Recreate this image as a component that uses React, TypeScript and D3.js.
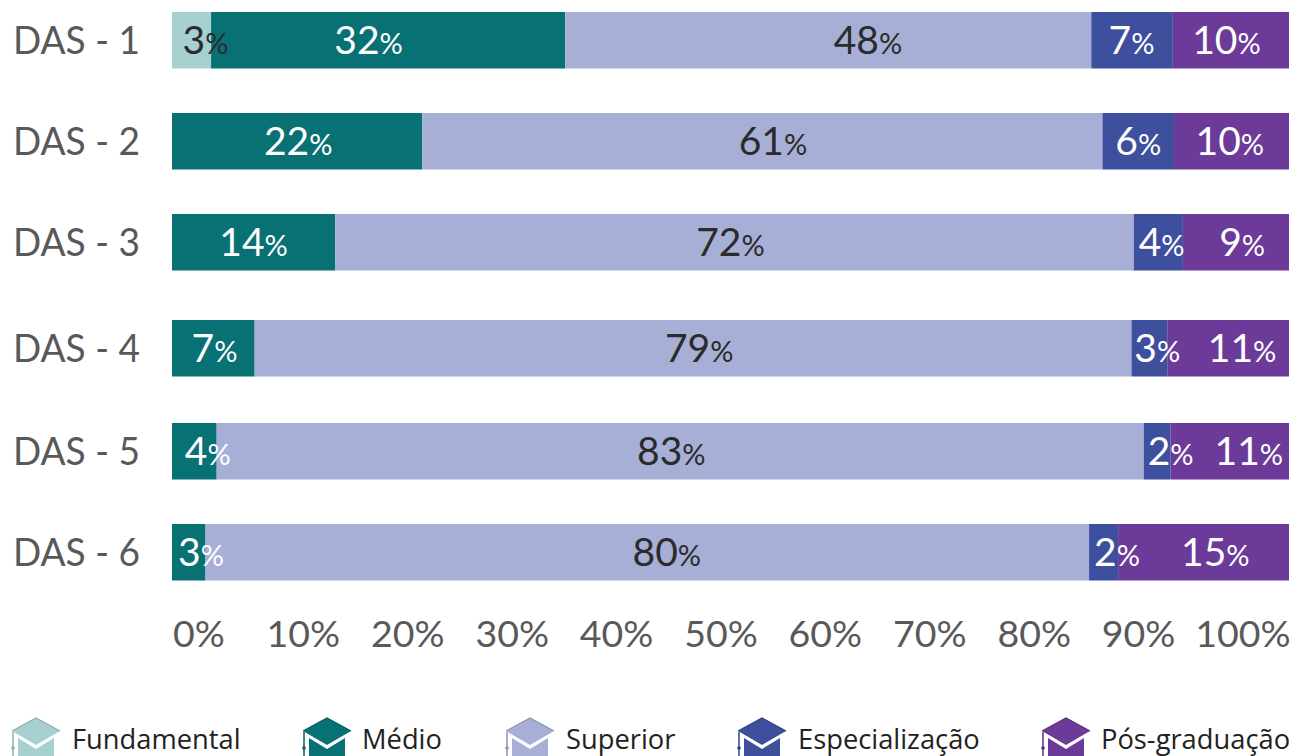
import React from 'react';
import * as d3 from 'd3';

const categories = ['DAS - 1', 'DAS - 2', 'DAS - 3', 'DAS - 4', 'DAS - 5', 'DAS - 6'];
const levels = ['Fundamental', 'Médio', 'Superior', 'Especialização', 'Pós-graduação'];
const levelColors = ['#a7d0d1', '#087174', '#a7afd6', '#3e4f9e', '#6c3a98'];
const levelTextColors = ['#2b2b2b', '#ffffff', '#2b2b2b', '#ffffff', '#ffffff'];
const tickValues = [0, 10, 20, 30, 40, 50, 60, 70, 80, 90, 100];

// Segment widths, in percent
const fundamental = [3.5, 0, 0, 0, 0, 0];
const medio = [31.7, 22.4, 14.6, 7.4, 4.0, 3.0];
const superior = [47.1, 60.9, 71.5, 78.5, 83.0, 79.1];
const especializacao = [7.3, 6.4, 4.4, 3.2, 2.4, 2.6];
const posGraduacao = [10.4, 10.3, 9.5, 10.9, 10.6, 15.3];
const seriesValues = [fundamental, medio, superior, especializacao, posGraduacao];

// Printed labels, one list per level (null = no label)
const fundamentalLabels = [3, null, null, null, null, null];
const medioLabels = [32, 22, 14, 7, 4, 3];
const superiorLabels = [48, 61, 72, 79, 83, 80];
const especializacaoLabels = [7, 6, 4, 3, 2, 2];
const posGraduacaoLabels = [10, 10, 9, 11, 11, 15];
const seriesLabels = [fundamentalLabels, medioLabels, superiorLabels, especializacaoLabels, posGraduacaoLabels];

// Where each printed label is centred, on the percent axis
const fundamentalLabelAt = [3.0, 0, 0, 0, 0, 0];
const medioLabelAt = [17.6, 11.3, 7.3, 3.8, 3.2, 2.6];
const superiorLabelAt = [62.3, 53.8, 50.0, 47.2, 44.7, 44.3];
const especializacaoLabelAt = [85.9, 86.5, 88.6, 88.2, 89.4, 84.6];
const posGraduacaoLabelAt = [94.4, 94.7, 95.8, 95.8, 96.4, 93.4];
const seriesLabelAt = [fundamentalLabelAt, medioLabelAt, superiorLabelAt, especializacaoLabelAt, posGraduacaoLabelAt];

// Layout
const WIDTH = 1294;
const HEIGHT = 756;
const rowTops = [12, 113, 214, 320, 423, 524];
const BAR_HEIGHT = 56.5;
const legendApex = [36, 327, 530, 762, 1066];
const legendTextX = [72, 362, 566, 798, 1101];
const FONT = '"Open Sans", "Noto Sans", sans-serif';
const NUM_FONT = 'Lato, "Open Sans", sans-serif';

const x = d3.scaleLinear().domain([0, 100]).range([172, 1289]);
const tickX = d3.scaleLinear().domain([0, 100]).range([199, 1243]);
const y = d3.scaleOrdinal<string, number>().domain(categories).range(rowTops);

function Hat({ cx, color }: { cx: number; color: string }) {
  const line = d3.line();
  const board = line([[-24, 13], [0, 0], [24, 13], [0, 27]]) + 'Z';
  const body = line([[-18, 20], [0, 31], [18, 20], [18, 45], [-18, 45]]) + 'Z';
  const edge = d3.color(color)!.darker(0.5).formatHex();
  return (
    <g transform={`translate(${cx},718)`}>
      <path d={body} fill={color} />
      <path d={board} fill={color} />
      <path d={line([[-24, 13], [0, 0], [24, 13]]) as string} fill="none" stroke={edge} strokeWidth={1.2} />
      <path d={line([[-23, 14], [-23, 45]]) as string} fill="none" stroke={edge} strokeWidth={1.5} />
      <circle cx={-23} cy={30} r={1.8} fill={edge} />
    </g>
  );
}

export default function App() {
  return (
    <svg
      width={WIDTH}
      height={HEIGHT}
      viewBox={`0 0 ${WIDTH} ${HEIGHT}`}
      style={{ position: 'fixed', left: 0, top: 0, background: '#fff', fontFamily: FONT }}
    >
      {categories.map((cat, i) => {
        let sum = 0;
        const top = y(cat);
        return (
          <g key={cat}>
            <text x={13} y={top + 42} fontSize={38} fontFamily={NUM_FONT} fill="#595959" textLength={127} lengthAdjust="spacingAndGlyphs">
              {cat}
            </text>
            {seriesValues.map((vals, s) => {
              const x0 = x(sum);
              sum += vals[i];
              const x1 = x(sum);
              return vals[i] > 0 ? (
                <rect key={s} x={x0} y={top} width={x1 - x0} height={BAR_HEIGHT} fill={levelColors[s]} />
              ) : null;
            })}
            {seriesLabels.map((labels, s) =>
              labels[i] === null ? null : (
                <text
                  key={s}
                  x={x(seriesLabelAt[s][i])}
                  y={top + 42}
                  textAnchor="middle"
                  fill={levelTextColors[s]}
                  fontSize={39}
                  fontFamily={NUM_FONT}
                >
                  {labels[i]}
                  <tspan fontSize={29}>%</tspan>
                </text>
              ),
            )}
          </g>
        );
      })}
      {tickValues.map((t) => (
        <text
          key={t}
          x={tickX(t)}
          y={647}
          textAnchor="middle"
          fontSize={37.5}
          fontFamily={NUM_FONT}
          fill="#595959"
        >
          {t}%
        </text>
      ))}
      {levels.map((name, i) => (
        <g key={name}>
          <Hat cx={legendApex[i]} color={levelColors[i]} />
          <text x={legendTextX[i]} y={749} fontSize={27.3} fill="#222222">
            {name}
          </text>
        </g>
      ))}
    </svg>
  );
}
